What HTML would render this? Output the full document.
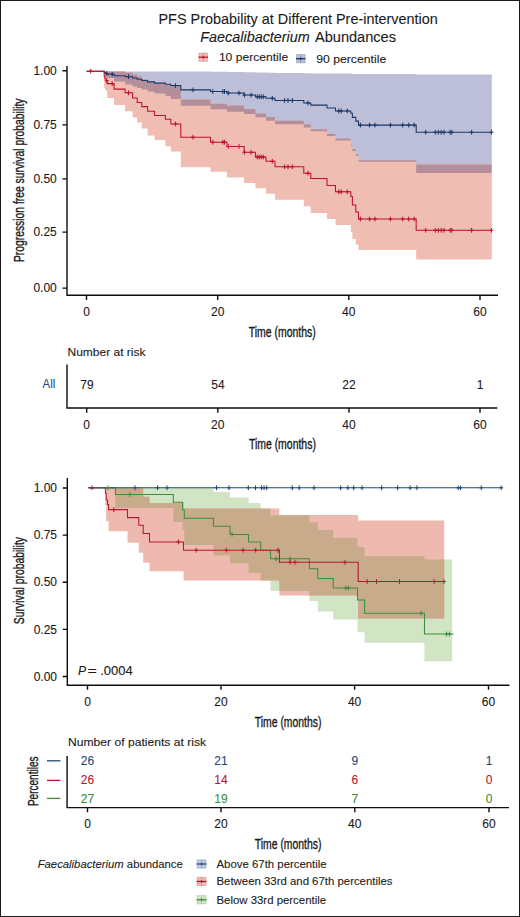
<!DOCTYPE html>
<html><head><meta charset="utf-8"><title>PFS Probability</title>
<style>
html,body{margin:0;padding:0;background:#fff;}
body{width:520px;height:917px;overflow:hidden;font-family:"Liberation Sans",sans-serif;}
.frame{position:absolute;left:0;top:0;width:518px;height:915px;border:1px solid #1c1c1c;}
svg{position:absolute;left:0;top:0;}
.cd{stroke:#1a1a1a;stroke-width:0.35px;}
text{-webkit-font-smoothing:antialiased;stroke-width:0.1px;paint-order:stroke;}
</style></head><body>
<svg width="520" height="917" viewBox="0 0 520 917" font-family="Liberation Sans, sans-serif"><text x="158.5" y="23.8" font-size="14.3" text-anchor="start" fill="#1a1a1a" stroke="#1a1a1a" textLength="279.2" lengthAdjust="spacingAndGlyphs">PFS Probability at Different Pre-intervention</text><text y="41.6" font-size="14" fill="#1a1a1a" stroke="#1a1a1a"><tspan x="200.3" font-style="italic" textLength="109.5" lengthAdjust="spacingAndGlyphs">Faecalibacterium</tspan><tspan x="315" textLength="81" lengthAdjust="spacingAndGlyphs">Abundances</tspan></text><rect x="198.9" y="53" width="8.7" height="8.4" fill="#efbdb2" stroke="#bd1229" stroke-opacity="0.25" stroke-width="0.8"/><path d="M203.25 52.6V61.8" stroke="#bd1229" stroke-opacity="0.25" stroke-width="0.8"/><path d="M198.5 57.2H208" stroke="#bd1229" stroke-width="1.3"/><path d="M203.25 55.7v3" stroke="#bd1229" stroke-width="1"/><text x="218.9" y="61.3" font-size="11.8" text-anchor="start" fill="#1a1a1a" stroke="#1a1a1a" textLength="69.3" lengthAdjust="spacingAndGlyphs">10 percentile</text><rect x="296.4" y="54.5" width="8.7" height="8.4" fill="#bdbfd9" stroke="#1b3868" stroke-opacity="0.25" stroke-width="0.8"/><path d="M300.75 54.1V63.3" stroke="#1b3868" stroke-opacity="0.25" stroke-width="0.8"/><path d="M296 58.7H305.5" stroke="#1b3868" stroke-width="1.3"/><path d="M300.75 57.2v3" stroke="#1b3868" stroke-width="1"/><text x="316.2" y="63" font-size="11.8" text-anchor="start" fill="#1a1a1a" stroke="#1a1a1a" textLength="70" lengthAdjust="spacingAndGlyphs">90 percentile</text><defs><clipPath id="cbt"><path d="M104.2 71.4L105 71.4L105 71.4L106.5 71.4L106.5 71.4L107.2 71.4L107.2 71.4L114.1 71.4L114.1 71.4L125.1 71.4L125.1 71.4L132.6 71.4L132.6 71.4L137.2 71.4L137.2 71.4L141.8 71.4L141.8 71.4L147.6 71.4L147.6 71.4L154.6 71.4L154.6 71.4L165.4 71.4L165.4 71.4L170.8 71.4L170.8 71.4L180.8 71.4L180.8 71.4L210.5 71.4L210.5 71.8L226.9 71.8L226.9 72L244.1 72L244.1 72.3L255.4 72.3L255.4 72.5L266 72.5L266 72.7L275 72.7L275 72.9L303.8 72.9L303.8 73.3L310.8 73.3L310.8 73.4L327 73.4L327 73.5L335.5 73.5L335.5 73.6L350.8 73.6L350.8 73.8L352.4 73.8L352.4 73.9L355.8 73.9L355.8 73.9L358.5 73.9L358.5 74L416.2 74L416.2 74.5L491.8 74.5L491.8 173L416.2 173L416.2 161.8L358.5 161.8L358.5 156L355.8 156L355.8 151L352.4 151L352.4 146L350.8 146L350.8 140.4L335.5 140.4L335.5 136L327 136L327 131.3L310.8 131.3L310.8 127.5L303.8 127.5L303.8 124.2L275 124.2L275 120.8L266 120.8L266 117.3L255.4 117.3L255.4 114L244.1 114L244.1 111.75L226.9 111.75L226.9 109.25L210.5 109.25L210.5 105.8L180.8 105.8L180.8 99L170.8 99L170.8 96L165.4 96L165.4 93.5L154.6 93.5L154.6 91.6L147.6 91.6L147.6 89.5L141.8 89.5L141.8 88L137.2 88L137.2 86.5L132.6 86.5L132.6 84.5L125.1 84.5L125.1 81.5L114.1 81.5L114.1 78.1L107.2 78.1L107.2 77.5L106.5 77.5L106.5 76L105 76L105 74L104.2 74Z"/></clipPath><clipPath id="cgb"><path d="M115.4 487.8L173.3 487.8L173.3 487.8L182.6 487.8L182.6 487.8L184.3 487.8L184.3 487.8L213.5 487.8L213.5 492L230 492L230 497.5L248.5 497.5L248.5 502.9L260.7 502.9L260.7 508.4L270.5 508.4L270.5 515.2L309.4 515.2L309.4 522.3L317.8 522.3L317.8 530L333.2 530L333.2 537.7L357.5 537.7L357.5 547L364.6 547L364.6 556.2L424.5 556.2L424.5 559.6L452.2 559.6L452.2 661.2L424.5 661.2L424.5 642.7L364.6 642.7L364.6 632.3L357.5 632.3L357.5 619.6L333.2 619.6L333.2 611.5L317.8 611.5L317.8 601L309.4 601L309.4 591L270.5 591L270.5 580.4L260.7 580.4L260.7 573L248.5 573L248.5 563.3L230 563.3L230 555.6L213.5 555.6L213.5 545L184.3 545L184.3 530L182.6 530L182.6 522L173.3 522L173.3 508L115.4 508Z"/></clipPath></defs><path d="M104.2 71.4L105 71.4L105 71.4L106.5 71.4L106.5 71.4L107.2 71.4L107.2 71.4L114.1 71.4L114.1 71.4L125.1 71.4L125.1 71.4L132.6 71.4L132.6 71.4L137.2 71.4L137.2 71.4L141.8 71.4L141.8 71.4L147.6 71.4L147.6 71.4L154.6 71.4L154.6 71.4L165.4 71.4L165.4 71.4L170.8 71.4L170.8 71.4L180.8 71.4L180.8 71.4L210.5 71.4L210.5 71.8L226.9 71.8L226.9 72L244.1 72L244.1 72.3L255.4 72.3L255.4 72.5L266 72.5L266 72.7L275 72.7L275 72.9L303.8 72.9L303.8 73.3L310.8 73.3L310.8 73.4L327 73.4L327 73.5L335.5 73.5L335.5 73.6L350.8 73.6L350.8 73.8L352.4 73.8L352.4 73.9L355.8 73.9L355.8 73.9L358.5 73.9L358.5 74L416.2 74L416.2 74.5L491.8 74.5L491.8 173L416.2 173L416.2 161.8L358.5 161.8L358.5 156L355.8 156L355.8 151L352.4 151L352.4 146L350.8 146L350.8 140.4L335.5 140.4L335.5 136L327 136L327 131.3L310.8 131.3L310.8 127.5L303.8 127.5L303.8 124.2L275 124.2L275 120.8L266 120.8L266 117.3L255.4 117.3L255.4 114L244.1 114L244.1 111.75L226.9 111.75L226.9 109.25L210.5 109.25L210.5 105.8L180.8 105.8L180.8 99L170.8 99L170.8 96L165.4 96L165.4 93.5L154.6 93.5L154.6 91.6L147.6 91.6L147.6 89.5L141.8 89.5L141.8 88L137.2 88L137.2 86.5L132.6 86.5L132.6 84.5L125.1 84.5L125.1 81.5L114.1 81.5L114.1 78.1L107.2 78.1L107.2 77.5L106.5 77.5L106.5 76L105 76L105 74L104.2 74Z" fill="#bdbfd9"/><path d="M104.2 71.2L105 71.2L105 71.2L106.5 71.2L106.5 71.2L107.2 71.2L107.2 71.2L114.1 71.2L114.1 71.2L125.1 71.2L125.1 72.5L132.6 72.5L132.6 74.6L137.2 74.6L137.2 76.5L141.8 76.5L141.8 79.3L147.6 79.3L147.6 81.5L154.6 81.5L154.6 83.5L165.4 83.5L165.4 85L170.8 85L170.8 87L180.8 87L180.8 99.5L210.5 99.5L210.5 103.75L226.9 103.75L226.9 105.5L244.1 105.5L244.1 109L255.4 109L255.4 113.5L266 113.5L266 117L275 117L275 120.8L303.8 120.8L303.8 124.2L310.8 124.2L310.8 129.2L327 129.2L327 134L335.5 134L335.5 138.5L350.8 138.5L350.8 145L352.4 145L352.4 149L355.8 149L355.8 154.4L358.5 154.4L358.5 160.3L416.2 160.3L416.2 164.6L491.8 164.6L491.8 259.6L416.2 259.6L416.2 250L358.5 250L358.5 244.4L355.8 244.4L355.8 239L352.4 239L352.4 232L350.8 232L350.8 225L335.5 225L335.5 219L327 219L327 213L310.8 213L310.8 206.3L303.8 206.3L303.8 199.8L275 199.8L275 193.7L266 193.7L266 188.3L255.4 188.3L255.4 182.9L244.1 182.9L244.1 177.5L226.9 177.5L226.9 171.7L210.5 171.7L210.5 167.2L180.8 167.2L180.8 151.5L170.8 151.5L170.8 146.2L165.4 146.2L165.4 140L154.6 140L154.6 135.4L147.6 135.4L147.6 128.5L141.8 128.5L141.8 122.4L137.2 122.4L137.2 117.6L132.6 117.6L132.6 111.3L125.1 111.3L125.1 105L114.1 105L114.1 97.9L107.2 97.9L107.2 91L106.5 91L106.5 90L105 90L105 88L104.2 88Z" fill="#efbdb2"/><path d="M104.2 71.2L105 71.2L105 71.2L106.5 71.2L106.5 71.2L107.2 71.2L107.2 71.2L114.1 71.2L114.1 71.2L125.1 71.2L125.1 72.5L132.6 72.5L132.6 74.6L137.2 74.6L137.2 76.5L141.8 76.5L141.8 79.3L147.6 79.3L147.6 81.5L154.6 81.5L154.6 83.5L165.4 83.5L165.4 85L170.8 85L170.8 87L180.8 87L180.8 99.5L210.5 99.5L210.5 103.75L226.9 103.75L226.9 105.5L244.1 105.5L244.1 109L255.4 109L255.4 113.5L266 113.5L266 117L275 117L275 120.8L303.8 120.8L303.8 124.2L310.8 124.2L310.8 129.2L327 129.2L327 134L335.5 134L335.5 138.5L350.8 138.5L350.8 145L352.4 145L352.4 149L355.8 149L355.8 154.4L358.5 154.4L358.5 160.3L416.2 160.3L416.2 164.6L491.8 164.6L491.8 259.6L416.2 259.6L416.2 250L358.5 250L358.5 244.4L355.8 244.4L355.8 239L352.4 239L352.4 232L350.8 232L350.8 225L335.5 225L335.5 219L327 219L327 213L310.8 213L310.8 206.3L303.8 206.3L303.8 199.8L275 199.8L275 193.7L266 193.7L266 188.3L255.4 188.3L255.4 182.9L244.1 182.9L244.1 177.5L226.9 177.5L226.9 171.7L210.5 171.7L210.5 167.2L180.8 167.2L180.8 151.5L170.8 151.5L170.8 146.2L165.4 146.2L165.4 140L154.6 140L154.6 135.4L147.6 135.4L147.6 128.5L141.8 128.5L141.8 122.4L137.2 122.4L137.2 117.6L132.6 117.6L132.6 111.3L125.1 111.3L125.1 105L114.1 105L114.1 97.9L107.2 97.9L107.2 91L106.5 91L106.5 90L105 90L105 88L104.2 88Z" fill="#b48f9b" clip-path="url(#cbt)"/><path d="M86.5 71.2H104.2V72.41H105V73.03H106.5V73.47H107.2V74.22H114.1V75.67H125.1V76.67H132.6V78.09H137.2V79.32H141.8V80.51H147.6V81.87H154.6V83.1H165.4V84.24H170.8V85.64H180.8V89.88H210.5V91.54H226.9V93.01H244.1V95.04H255.4V96.73H266V98.29H275V100.42H303.8V102.95H310.8V105.13H327V108.08H335.5V110.96H350.8V113.17H352.4V117.39H355.8V121.12H358.5V125.11H416.2V132.26H491.8" fill="none" stroke="#1b3868" stroke-width="1.05"/><path d="M106.7 71.07v4.8M104.7 73.47h4M112.2 71.82v4.8M110.2 74.22h4M128.5 74.27v4.8M126.5 76.67h4M175.4 83.24v4.8M173.4 85.64h4M193 87.48v4.8M191 89.88h4M212.8 89.14v4.8M210.8 91.54h4M222.9 89.14v4.8M220.9 91.54h4M224.5 89.14v4.8M222.5 91.54h4M228.3 90.61v4.8M226.3 93.01h4M239 90.61v4.8M237 93.01h4M244.4 92.64v4.8M242.4 95.04h4M251.1 92.64v4.8M249.1 95.04h4M257.2 94.33v4.8M255.2 96.73h4M259.2 94.33v4.8M257.2 96.73h4M261.2 94.33v4.8M259.2 96.73h4M263.3 94.33v4.8M261.3 96.73h4M272.3 95.89v4.8M270.3 98.29h4M284.6 98.02v4.8M282.6 100.42h4M288 98.02v4.8M286 100.42h4M292.3 98.02v4.8M290.3 100.42h4M308 100.55v4.8M306 102.95h4M338.8 108.56v4.8M336.8 110.96h4M341.2 108.56v4.8M339.2 110.96h4M347.3 108.56v4.8M345.3 110.96h4M360.4 122.71v4.8M358.4 125.11h4M369.6 122.71v4.8M367.6 125.11h4M375 122.71v4.8M373 125.11h4M390.4 122.71v4.8M388.4 125.11h4M402.7 122.71v4.8M400.7 125.11h4M408.7 122.71v4.8M406.7 125.11h4M414.2 122.71v4.8M412.2 125.11h4M425.7 129.86v4.8M423.7 132.26h4M435.3 129.86v4.8M433.3 132.26h4M438.3 129.86v4.8M436.3 132.26h4M441.2 129.86v4.8M439.2 132.26h4M444 129.86v4.8M442 132.26h4M450.1 129.86v4.8M448.1 132.26h4M451.8 129.86v4.8M449.8 132.26h4M471.6 129.86v4.8M469.6 132.26h4M491.4 129.86v4.8M489.4 132.26h4" fill="none" stroke="#1b3868" stroke-width="1.0"/><path d="M86.5 71.2H104.2V76.6H105V79H106.5V80.7H107.2V83.6H114.1V89.1H125.1V92.8H132.6V98H137.2V102.4H141.8V106.6H147.6V111.3H154.6V115.5H165.4V119.3H170.8V123.9H180.8V137.2H210.5V142.2H226.9V146.5H244.1V152.3H255.4V157H266V161.2H275V166.8H303.8V173.2H310.8V178.5H327V185.4H335.5V191.8H350.8V196.5H352.4V205H355.8V212H358.5V219H416.2V230.3H491.8" fill="none" stroke="#bd1229" stroke-width="1.05"/><path d="M90.7 68.8v4.8M88.7 71.2h4M106.7 78.3v4.8M104.7 80.7h4M112.2 81.2v4.8M110.2 83.6h4M128.5 90.4v4.8M126.5 92.8h4M175.4 121.5v4.8M173.4 123.9h4M193 134.8v4.8M191 137.2h4M212.8 139.8v4.8M210.8 142.2h4M222.9 139.8v4.8M220.9 142.2h4M224.5 139.8v4.8M222.5 142.2h4M228.3 144.1v4.8M226.3 146.5h4M239 144.1v4.8M237 146.5h4M244.4 149.9v4.8M242.4 152.3h4M251.1 149.9v4.8M249.1 152.3h4M257.2 154.6v4.8M255.2 157h4M259.2 154.6v4.8M257.2 157h4M261.2 154.6v4.8M259.2 157h4M263.3 154.6v4.8M261.3 157h4M272.3 158.8v4.8M270.3 161.2h4M284.6 164.4v4.8M282.6 166.8h4M288 164.4v4.8M286 166.8h4M292.3 164.4v4.8M290.3 166.8h4M308 170.8v4.8M306 173.2h4M338.8 189.4v4.8M336.8 191.8h4M341.2 189.4v4.8M339.2 191.8h4M347.3 189.4v4.8M345.3 191.8h4M360.4 216.6v4.8M358.4 219h4M369.6 216.6v4.8M367.6 219h4M375 216.6v4.8M373 219h4M390.4 216.6v4.8M388.4 219h4M402.7 216.6v4.8M400.7 219h4M408.7 216.6v4.8M406.7 219h4M414.2 216.6v4.8M412.2 219h4M425.7 227.9v4.8M423.7 230.3h4M435.3 227.9v4.8M433.3 230.3h4M438.3 227.9v4.8M436.3 230.3h4M441.2 227.9v4.8M439.2 230.3h4M444 227.9v4.8M442 230.3h4M450.1 227.9v4.8M448.1 230.3h4M451.8 227.9v4.8M449.8 230.3h4M471.6 227.9v4.8M469.6 230.3h4M491.4 227.9v4.8M489.4 230.3h4" fill="none" stroke="#bd1229" stroke-width="1.0"/><path d="M67 66V295.2H498M62.4 70.7H67M62.4 124.9H67M62.4 178.9H67M62.4 232.1H67M62.4 288.1H67M86.5 295V300M217.7 295V300M348.8 295V300M480 295V300" fill="none" stroke="#0d0d0d" stroke-width="1.4"/><text x="56.8" y="74.9" font-size="12" text-anchor="end" fill="#1a1a1a" stroke="#1a1a1a" >1.00</text><text x="56.8" y="129.1" font-size="12" text-anchor="end" fill="#1a1a1a" stroke="#1a1a1a" >0.75</text><text x="56.8" y="183.1" font-size="12" text-anchor="end" fill="#1a1a1a" stroke="#1a1a1a" >0.50</text><text x="56.8" y="236.3" font-size="12" text-anchor="end" fill="#1a1a1a" stroke="#1a1a1a" >0.25</text><text x="56.8" y="292.3" font-size="12" text-anchor="end" fill="#1a1a1a" stroke="#1a1a1a" >0.00</text><text x="86.5" y="316" font-size="12" text-anchor="middle" fill="#1a1a1a" stroke="#1a1a1a" >0</text><text x="217.7" y="316" font-size="12" text-anchor="middle" fill="#1a1a1a" stroke="#1a1a1a" >20</text><text x="348.8" y="316" font-size="12" text-anchor="middle" fill="#1a1a1a" stroke="#1a1a1a" >40</text><text x="480" y="316" font-size="12" text-anchor="middle" fill="#1a1a1a" stroke="#1a1a1a" >60</text><text class="cd" x="248.8" y="336.6" font-size="14.2" fill="#1a1a1a" textLength="67" lengthAdjust="spacingAndGlyphs">Time (months)</text><text class="cd" transform="translate(23.6 180.3) rotate(-90)" x="-81.8" y="0" font-size="14" fill="#1a1a1a" textLength="163.6" lengthAdjust="spacingAndGlyphs">Progression free survival probability</text><text x="67.5" y="356.3" font-size="11" text-anchor="start" fill="#1a1a1a" stroke="#1a1a1a" textLength="78" lengthAdjust="spacingAndGlyphs">Number at risk</text><path d="M67 364.6V408H497.3M86.7 408V412.7M217.8 408V412.7M349 408V412.7M480 408V412.7" fill="none" stroke="#0d0d0d" stroke-width="1.4"/><text x="55.2" y="388.2" font-size="12.2" text-anchor="end" fill="#214a7c" stroke="#214a7c" textLength="12.6" lengthAdjust="spacingAndGlyphs">All</text><text x="87" y="389" font-size="12" text-anchor="middle" fill="#1a1a1a" stroke="#1a1a1a" >79</text><text x="218" y="389" font-size="12" text-anchor="middle" fill="#1a1a1a" stroke="#1a1a1a" >54</text><text x="349" y="389" font-size="12" text-anchor="middle" fill="#1a1a1a" stroke="#1a1a1a" >22</text><text x="480" y="389" font-size="12" text-anchor="middle" fill="#1a1a1a" stroke="#1a1a1a" >1</text><text x="86.7" y="428.8" font-size="12" text-anchor="middle" fill="#1a1a1a" stroke="#1a1a1a" >0</text><text x="217.8" y="428.8" font-size="12" text-anchor="middle" fill="#1a1a1a" stroke="#1a1a1a" >20</text><text x="349" y="428.8" font-size="12" text-anchor="middle" fill="#1a1a1a" stroke="#1a1a1a" >40</text><text x="480" y="428.8" font-size="12" text-anchor="middle" fill="#1a1a1a" stroke="#1a1a1a" >60</text><text class="cd" x="248.9" y="449" font-size="14.2" fill="#1a1a1a" textLength="67" lengthAdjust="spacingAndGlyphs">Time (months)</text><path d="M115.4 487.8L173.3 487.8L173.3 487.8L182.6 487.8L182.6 487.8L184.3 487.8L184.3 487.8L213.5 487.8L213.5 492L230 492L230 497.5L248.5 497.5L248.5 502.9L260.7 502.9L260.7 508.4L270.5 508.4L270.5 515.2L309.4 515.2L309.4 522.3L317.8 522.3L317.8 530L333.2 530L333.2 537.7L357.5 537.7L357.5 547L364.6 547L364.6 556.2L424.5 556.2L424.5 559.6L452.2 559.6L452.2 661.2L424.5 661.2L424.5 642.7L364.6 642.7L364.6 632.3L357.5 632.3L357.5 619.6L333.2 619.6L333.2 611.5L317.8 611.5L317.8 601L309.4 601L309.4 591L270.5 591L270.5 580.4L260.7 580.4L260.7 573L248.5 573L248.5 563.3L230 563.3L230 555.6L213.5 555.6L213.5 545L184.3 545L184.3 530L182.6 530L182.6 522L173.3 522L173.3 508L115.4 508Z" fill="#d1e4c4"/><path d="M105.4 487.8L106.2 487.8L106.2 487.8L108.6 487.8L108.6 487.8L127.5 487.8L127.5 487.8L138.8 487.8L138.8 487.8L143.2 487.8L143.2 496.8L149.5 496.8L149.5 503L183.5 503L183.5 508.4L279.4 508.4L279.4 515.1L358.2 515.1L358.2 520.4L444.2 520.4L444.2 618.5L358.2 618.5L358.2 595.4L279.4 595.4L279.4 580.4L183.5 580.4L183.5 571.2L149.5 571.2L149.5 562.7L143.2 562.7L143.2 552.7L138.8 552.7L138.8 542.7L127.5 542.7L127.5 531.2L108.6 531.2L108.6 521.2L106.2 521.2L106.2 505L105.4 505Z" fill="#eebab0"/><path d="M105.4 487.8L106.2 487.8L106.2 487.8L108.6 487.8L108.6 487.8L127.5 487.8L127.5 487.8L138.8 487.8L138.8 487.8L143.2 487.8L143.2 496.8L149.5 496.8L149.5 503L183.5 503L183.5 508.4L279.4 508.4L279.4 515.1L358.2 515.1L358.2 520.4L444.2 520.4L444.2 618.5L358.2 618.5L358.2 595.4L279.4 595.4L279.4 580.4L183.5 580.4L183.5 571.2L149.5 571.2L149.5 562.7L143.2 562.7L143.2 552.7L138.8 552.7L138.8 542.7L127.5 542.7L127.5 531.2L108.6 531.2L108.6 521.2L106.2 521.2L106.2 505L105.4 505Z" fill="#c8ab8b" clip-path="url(#cgb)"/><path d="M88.5 487.8H115.4V494.5H173.3V502.3H182.6V509.8H184.3V518.2H213.5V526.2H230V534.4H248.5V541.9H260.7V550.2H270.5V558.8H309.4V568.7H317.8V578.4H333.2V588H357.5V600H364.6V613.2H424.5V634H453.5" fill="none" stroke="#3d8e3d" stroke-width="1.05"/><path d="M88.5 487.8H105.4V493H106.2V500H107.5V504.5H108.6V509.6H127.5V517.6H138.8V525.3H143.2V533.5H149.5V541.9H183.5V550.2H279.4V562.3H358.2V581.5H445.5" fill="none" stroke="#b5182e" stroke-width="1.05"/><path d="M88.5 487.8H502.5" fill="none" stroke="#214a7c" stroke-width="1.05"/><path d="M88.5 487.8H115.4" fill="none" stroke="#4a6852" stroke-width="1.05"/><path d="M108 485.4v4.8M106 487.8h4M130 492.1v4.8M128 494.5h4M232 532v4.8M230 534.4h4M276 556.4v4.8M274 558.8h4M290.1 556.4v4.8M288.1 558.8h4M345.8 585.6v4.8M343.8 588h4M348.5 585.6v4.8M346.5 588h4M421.2 610.8v4.8M419.2 613.2h4M446.6 631.6v4.8M444.6 634h4M449.6 631.6v4.8M447.6 634h4" fill="none" stroke="#3d8e3d" stroke-width="1.0"/><path d="M92 485.4v4.8M90 487.8h4M113.8 507.2v4.8M111.8 509.6h4M178.4 539.5v4.8M176.4 541.9h4M196.2 547.8v4.8M194.2 550.2h4M226.3 547.8v4.8M224.3 550.2h4M243 547.8v4.8M241 550.2h4M255.7 547.8v4.8M253.7 550.2h4M278 547.8v4.8M276 550.2h4M290.1 559.9v4.8M288.1 562.3h4M295 559.9v4.8M293 562.3h4M345 559.9v4.8M343 562.3h4M367.2 579.1v4.8M365.2 581.5h4M376.5 579.1v4.8M374.5 581.5h4M399.5 579.1v4.8M397.5 581.5h4M434.2 579.1v4.8M432.2 581.5h4M443.9 579.1v4.8M441.9 581.5h4" fill="none" stroke="#b5182e" stroke-width="1.0"/><path d="M135 485.4v4.8M133 487.8h4M157.5 485.4v4.8M155.5 487.8h4M167 485.4v4.8M165 487.8h4M216.5 485.4v4.8M214.5 487.8h4M229 485.4v4.8M227 487.8h4M248.3 485.4v4.8M246.3 487.8h4M255.5 485.4v4.8M253.5 487.8h4M261.5 485.4v4.8M259.5 487.8h4M264 485.4v4.8M262 487.8h4M266.7 485.4v4.8M264.7 487.8h4M292.3 485.4v4.8M290.3 487.8h4M299.2 485.4v4.8M297.2 487.8h4M314 485.4v4.8M312 487.8h4M340.6 485.4v4.8M338.6 487.8h4M347.9 485.4v4.8M345.9 487.8h4M353.7 485.4v4.8M351.7 487.8h4M362 485.4v4.8M360 487.8h4M381.6 485.4v4.8M379.6 487.8h4M397.6 485.4v4.8M395.6 487.8h4M410.2 485.4v4.8M408.2 487.8h4M416.9 485.4v4.8M414.9 487.8h4M458.2 485.4v4.8M456.2 487.8h4M460.5 485.4v4.8M458.5 487.8h4M481.2 485.4v4.8M479.2 487.8h4M501.2 485.4v4.8M499.2 487.8h4" fill="none" stroke="#214a7c" stroke-width="1.0"/><path d="M67.3 477.9V685.2H509.5M62.7 488H67.3M62.7 535.1H67.3M62.7 582.25H67.3M62.7 629.4H67.3M62.7 676.5H67.3M87.5 685V689.7M221 685V689.7M354.6 685V689.7M488.5 685V689.7" fill="none" stroke="#0d0d0d" stroke-width="1.4"/><text x="57" y="492.2" font-size="12" text-anchor="end" fill="#1a1a1a" stroke="#1a1a1a" >1.00</text><text x="57" y="539.3" font-size="12" text-anchor="end" fill="#1a1a1a" stroke="#1a1a1a" >0.75</text><text x="57" y="586.45" font-size="12" text-anchor="end" fill="#1a1a1a" stroke="#1a1a1a" >0.50</text><text x="57" y="633.6" font-size="12" text-anchor="end" fill="#1a1a1a" stroke="#1a1a1a" >0.25</text><text x="57" y="680.7" font-size="12" text-anchor="end" fill="#1a1a1a" stroke="#1a1a1a" >0.00</text><text x="87.5" y="706" font-size="12" text-anchor="middle" fill="#1a1a1a" stroke="#1a1a1a" >0</text><text x="221" y="706" font-size="12" text-anchor="middle" fill="#1a1a1a" stroke="#1a1a1a" >20</text><text x="354.6" y="706" font-size="12" text-anchor="middle" fill="#1a1a1a" stroke="#1a1a1a" >40</text><text x="488.5" y="706" font-size="12" text-anchor="middle" fill="#1a1a1a" stroke="#1a1a1a" >60</text><text class="cd" x="254.85" y="726.6" font-size="14.2" fill="#1a1a1a" textLength="66.5" lengthAdjust="spacingAndGlyphs">Time (months)</text><text class="cd" transform="translate(24.4 580.6) rotate(-90)" x="-43.6" y="0" font-size="14.2" fill="#1a1a1a" textLength="87.2" lengthAdjust="spacingAndGlyphs">Survival probability</text><text y="675.4" font-size="12.2" fill="#1a1a1a" stroke="#1a1a1a"><tspan x="78" font-style="italic">P</tspan><tspan x="87.4" textLength="9.4" lengthAdjust="spacingAndGlyphs">=</tspan><tspan x="100.2" textLength="32.5" lengthAdjust="spacingAndGlyphs">.0004</tspan></text><text x="68" y="746.3" font-size="11.3" text-anchor="start" fill="#1a1a1a" stroke="#1a1a1a" textLength="138" lengthAdjust="spacingAndGlyphs">Number of patients at risk</text><path d="M67.1 756V807.6H509M87.5 807.6V812.3M221 807.6V812.3M354.8 807.6V812.3M489 807.6V812.3" fill="none" stroke="#0d0d0d" stroke-width="1.4"/><path d="M47 760.8H60.4" stroke="#214a7c" stroke-width="1.3"/><text x="87.5" y="765.1" font-size="12" text-anchor="middle" fill="#214a7c" stroke="#214a7c" >26</text><text x="221" y="765.1" font-size="12" text-anchor="middle" fill="#214a7c" stroke="#214a7c" >21</text><text x="354.8" y="765.1" font-size="12" text-anchor="middle" fill="#214a7c" stroke="#214a7c" >9</text><text x="489" y="765.1" font-size="12" text-anchor="middle" fill="#214a7c" stroke="#214a7c" >1</text><path d="M47 780.4H60.4" stroke="#b5182e" stroke-width="1.3"/><text x="87.5" y="783.7" font-size="12" text-anchor="middle" fill="#b5182e" stroke="#b5182e" >26</text><text x="221" y="783.7" font-size="12" text-anchor="middle" fill="#b5182e" stroke="#b5182e" >14</text><text x="354.8" y="783.7" font-size="12" text-anchor="middle" fill="#b5182e" stroke="#b5182e" >6</text><text x="489" y="783.7" font-size="12" text-anchor="middle" fill="#b5182e" stroke="#b5182e" >0</text><path d="M47 798.4H60.4" stroke="#3d8e3d" stroke-width="1.3"/><text x="87.5" y="802.7" font-size="12" text-anchor="middle" fill="#3d8e3d" stroke="#3d8e3d" >27</text><text x="221" y="802.7" font-size="12" text-anchor="middle" fill="#3d8e3d" stroke="#3d8e3d" >19</text><text x="354.8" y="802.7" font-size="12" text-anchor="middle" fill="#3d8e3d" stroke="#3d8e3d" >7</text><text x="489" y="802.7" font-size="12" text-anchor="middle" fill="#3d8e3d" stroke="#3d8e3d" >0</text><text x="87.5" y="827.5" font-size="12" text-anchor="middle" fill="#1a1a1a" stroke="#1a1a1a" >0</text><text x="221" y="827.5" font-size="12" text-anchor="middle" fill="#1a1a1a" stroke="#1a1a1a" >20</text><text x="354.8" y="827.5" font-size="12" text-anchor="middle" fill="#1a1a1a" stroke="#1a1a1a" >40</text><text x="489" y="827.5" font-size="12" text-anchor="middle" fill="#1a1a1a" stroke="#1a1a1a" >60</text><text class="cd" x="254.85" y="849.1" font-size="14.2" fill="#1a1a1a" textLength="66.5" lengthAdjust="spacingAndGlyphs">Time (months)</text><text class="cd" transform="translate(37.8 781.3) rotate(-90)" x="-24.8" y="0" font-size="14.5" fill="#1a1a1a" textLength="49.6" lengthAdjust="spacingAndGlyphs">Percentiles</text><text x="37.7" y="867.7" font-size="11.3" fill="#1a1a1a" stroke="#1a1a1a"><tspan font-style="italic">Faecalibacterium</tspan><tspan> abundance</tspan></text><rect x="197" y="859.8" width="9.1" height="8.4" fill="#bfc9e0" stroke="#214a7c" stroke-opacity="0.25" stroke-width="0.8"/><path d="M201.55 859.4V868.6" stroke="#214a7c" stroke-opacity="0.25" stroke-width="0.8"/><path d="M196.6 864H206.5" stroke="#214a7c" stroke-width="1.3"/><path d="M201.55 862.5v3" stroke="#214a7c" stroke-width="1"/><text x="216.5" y="867.9" font-size="11.4" text-anchor="start" fill="#1a1a1a" stroke="#1a1a1a" >Above 67th percentile</text><rect x="197" y="877.3" width="9.1" height="8.4" fill="#eebab0" stroke="#b5182e" stroke-opacity="0.25" stroke-width="0.8"/><path d="M201.55 876.9V886.1" stroke="#b5182e" stroke-opacity="0.25" stroke-width="0.8"/><path d="M196.6 881.5H206.5" stroke="#b5182e" stroke-width="1.3"/><path d="M201.55 880v3" stroke="#b5182e" stroke-width="1"/><text x="216.5" y="885.4" font-size="11.4" text-anchor="start" fill="#1a1a1a" stroke="#1a1a1a" >Between 33rd and 67th percentiles</text><rect x="197" y="895.6" width="9.1" height="8.4" fill="#d1e4c4" stroke="#3d8e3d" stroke-opacity="0.25" stroke-width="0.8"/><path d="M201.55 895.2V904.4" stroke="#3d8e3d" stroke-opacity="0.25" stroke-width="0.8"/><path d="M196.6 899.8H206.5" stroke="#3d8e3d" stroke-width="1.3"/><path d="M201.55 898.3v3" stroke="#3d8e3d" stroke-width="1"/><text x="216.5" y="903.7" font-size="11.4" text-anchor="start" fill="#1a1a1a" stroke="#1a1a1a" >Below 33rd percentile</text></svg>
<div class="frame"></div>
</body></html>
